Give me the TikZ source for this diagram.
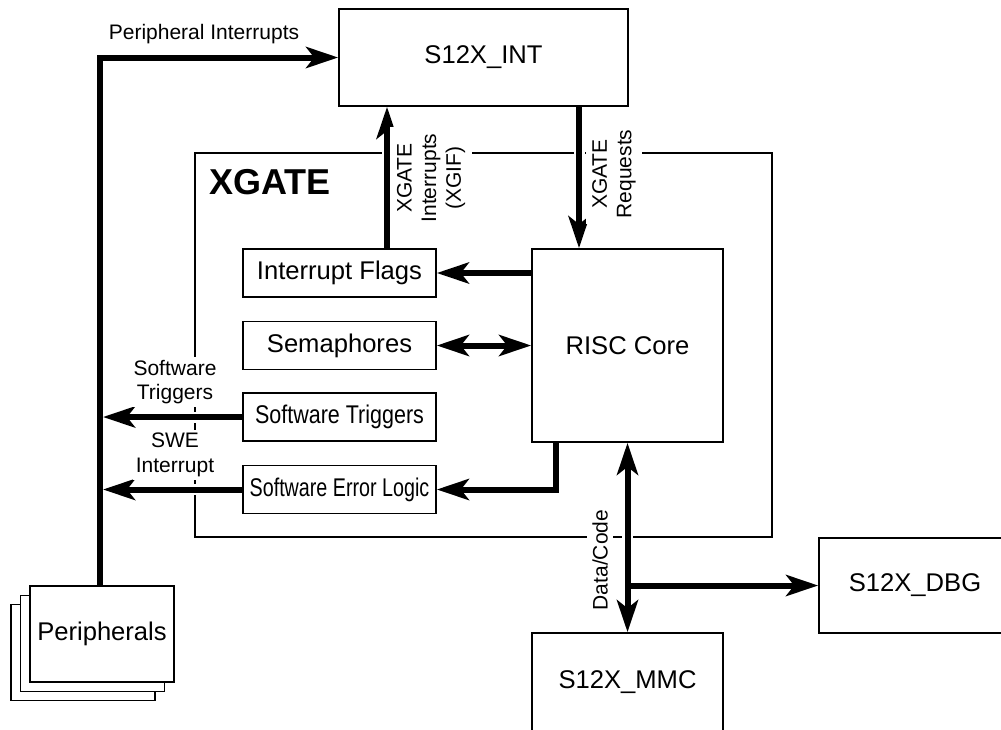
\documentclass[tikz,border=0pt]{standalone}
\usepackage{fontspec}
\usepackage{graphicx}
\setmainfont{Liberation Sans}
\usetikzlibrary{arrows.meta}
\pgfdeclarelayer{frame}
\pgfdeclarelayer{wires}
\pgfsetlayers{frame,wires,main}
\begin{document}
\begin{tikzpicture}
% one unit = one pixel of the drawing
\def\pxsz{0.5pt}
\tikzset{
  >={Stealth[length=16pt,width=10.5pt,inset=4pt]},
  blk/.style={draw, line width=0.8pt, fill=white, inner sep=0pt, font=\fontsize{12.8}{15}\selectfont},
  lbl/.style={inner sep=1pt, align=center, font=\fontsize{10.5}{12.3}\selectfont},
  mask/.style={lbl, fill=white},
  bus/.style={line width=3pt},
  halo/.style={preaction={draw=white, line width=5.5pt, -}},
}
\begin{scope}[x=\pxsz, y=-\pxsz]
  \useasboundingbox (0,0) rectangle (1001,729);
  % Blocks
  \node[blk, minimum width=144.5pt, minimum height=48.5pt] (int) at (483.5,57.5) {S12X\_INT};
  \node[blk, minimum width=96.5pt, minimum height=24pt] (iflags) at (339.5,273) {Interrupt Flags};
  \node[blk, minimum width=96.5pt, minimum height=24pt] (sema) at (339.5,345.5) {Semaphores};
  \node[blk, minimum width=96.5pt, minimum height=24pt] (swtrig) at (339.5,417) {\scalebox{0.84}[1]{Software Triggers}};
  \node[blk, minimum width=96.5pt, minimum height=24pt] (swerr) at (339.5,489.5) {\scalebox{0.77}[1]{Software Error Logic}};
  \node[blk, minimum width=95.5pt, minimum height=96.5pt] (risc) at (627.5,345.5) {RISC Core};
  \node[blk, minimum width=95.5pt, minimum height=49pt] (mmc) at (627.5,682) {S12X\_MMC};
  \node[blk, minimum width=96pt, minimum height=47.5pt] (dbg) at (915,585.5) {S12X\_DBG};
  % Peripherals stack
  \node[blk, minimum width=72pt, minimum height=48pt] (periphc) at (83,652.5) {};
  \node[blk, minimum width=72pt, minimum height=48pt] (periphb) at (92.5,643.5) {};
  \node[blk, minimum width=72pt, minimum height=48pt] (periph) at (102,634) {Peripherals};
  % Columns of the vertical wires
  \coordinate (busx) at (100,0);
  \coordinate (busedge) at (103,0);
  \coordinate (irqx) at (387,0);
  \coordinate (reqx) at (579,0);
  \coordinate (errx) at (556,0);
  % XGATE frame
  \begin{pgfonlayer}{frame}
    \draw[line width=1.4pt] (195,153) rectangle (772,537);
  \end{pgfonlayer}
  \node[inner sep=0pt, font=\fontsize{18}{20}\selectfont\bfseries] (xgate) at (270,182) {XGATE};
  % Wires
  \begin{pgfonlayer}{wires}
    \draw[bus, ->] (periph.north -| busx) |- (int.west);
    \draw[bus, ->, halo] (iflags.north -| irqx) -- (int.south -| irqx);
    \draw[bus, ->, halo] (int.south -| reqx) -- (risc.north -| reqx);
    \draw[bus, ->] (risc.west |- iflags.east) -- (iflags.east);
    \draw[bus, <->] (sema.east) -- (risc.west |- sema.east);
    \draw[bus, ->, halo] (swtrig.west) -- (busedge |- swtrig.west);
    \draw[bus, ->, halo] (swerr.west) -- (busedge |- swerr.west);
    \draw[bus, ->] (risc.south -| errx) |- (swerr.east);
    \draw[bus, <->, halo] (risc.south) -- (mmc.north);
    \draw[bus, ->] (risc.south |- dbg.west) -- (dbg.west);
  \end{pgfonlayer}
  % Wire labels
  \node[lbl] (lperint) at (204,34) {Peripheral Interrupts};
  \node[mask, inner sep=3.5pt, rotate=90] (lxgif) at (431,178) {XGATE\\Interrupts\\(XGIF)};
  \node[mask, inner sep=3pt, rotate=90] (lreq) at (614,174) {XGATE\\Requests};
  \node[mask, inner sep=1.5pt] (lswtrig) at (175,382) {Software\\Triggers};
  \node[mask, inner sep=1.5pt] (lswe) at (175,455) {SWE\\Interrupt};
  \node[mask, inner sep=2.5pt, rotate=90] (ldata) at (600,560) {Data/Code};
\end{scope}
\end{tikzpicture}
\end{document}
